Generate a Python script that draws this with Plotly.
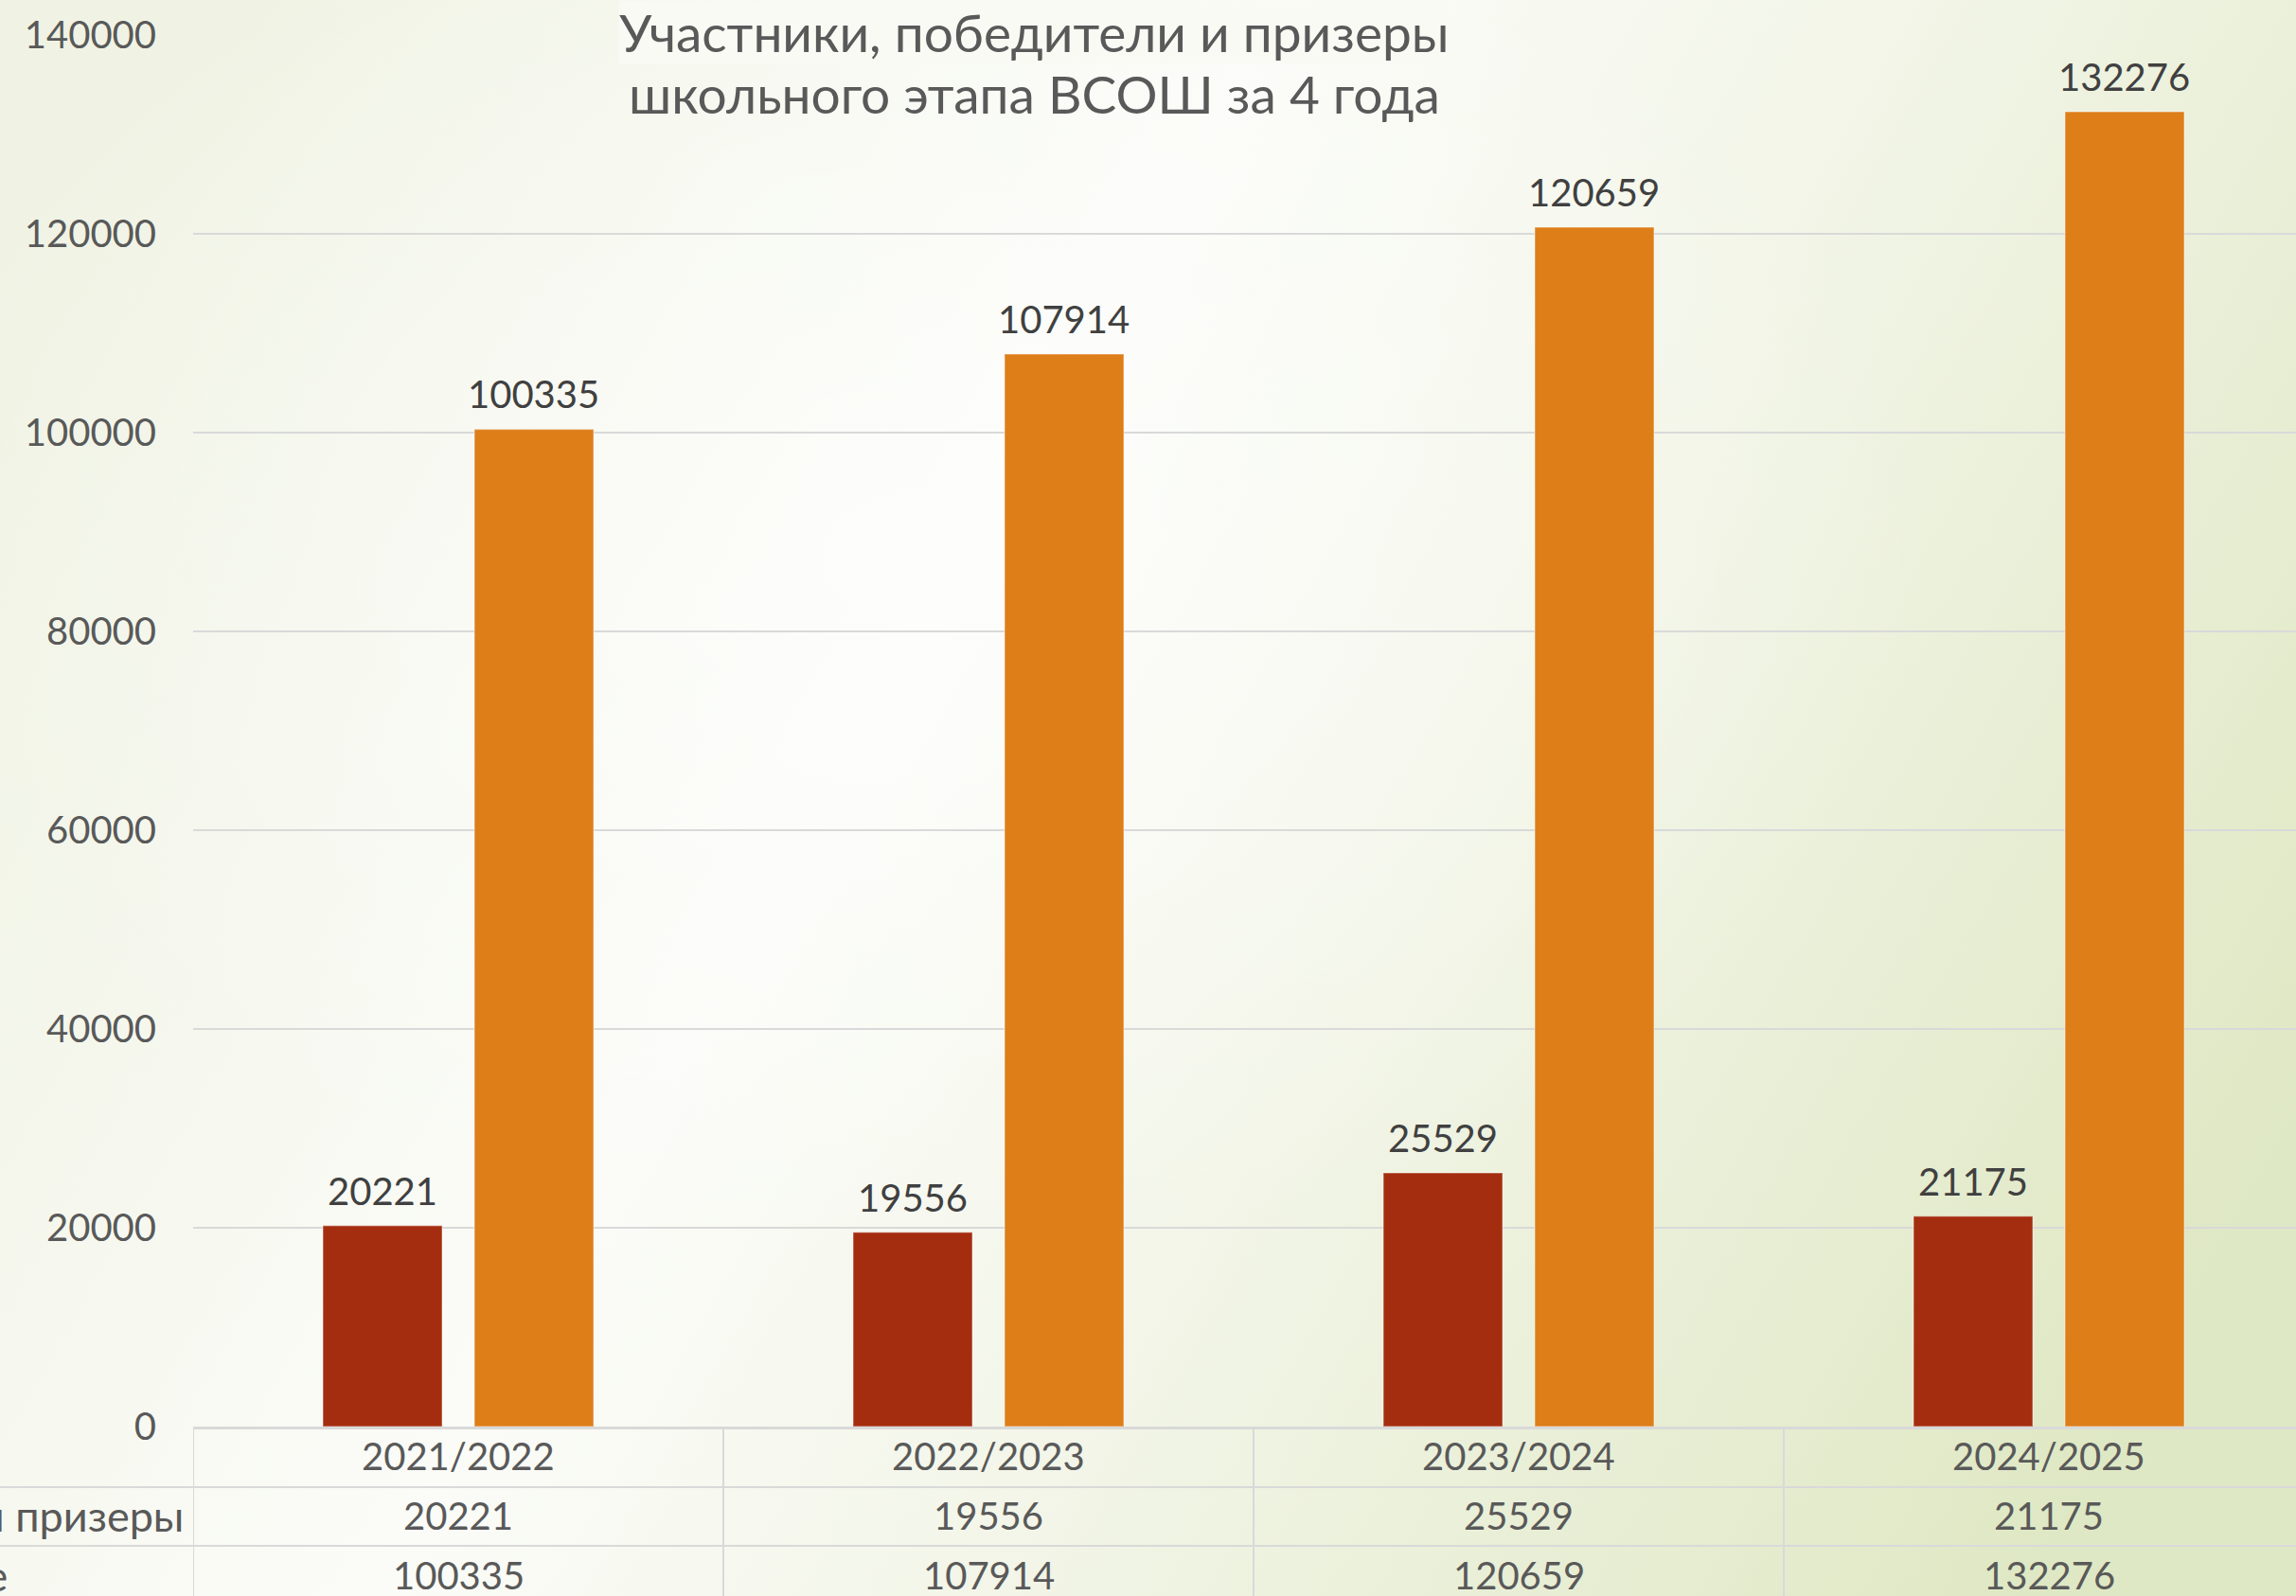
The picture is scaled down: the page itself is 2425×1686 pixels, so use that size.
import base64
import plotly.graph_objects as go

# ---------------- data ----------------
categories = ["2021/2022", "2022/2023", "2023/2024", "2024/2025"]
winners = [20221, 19556, 25529, 21175]
participants = [100335, 107914, 120659, 132276]
series_names = ["Победители и призеры", "Участие"]
y_ticks = [0, 20000, 40000, 60000, 80000, 100000, 120000, 140000]
title_lines = ["Участники, победители и призеры", "школьного этапа ВСОШ за 4 года"]

# ---------------- geometry ----------------
W, H = 2425, 1686
ML, MR, MT, MB = 204, 0, 37, 179
PW, PH = W - ML - MR, H - MT - MB
CAT_PX = 560.0
x_max = -0.5 + PW / CAT_PX
BARGAP, GROUPGAP = 0.4286, 0.2125
SLOT_PX = CAT_PX * (1 - BARGAP) / 2


def px_x(p):
    return (p - ML) / PW


def px_y(p):
    return (H - MB - p) / PH


FONT = "Lato"
TXT = "#595959"
GRID = "#D9D9D9"
RED = "#A52D0F"
ORANGE = "#DD7E19"
FS = 40

# background gradient (svg data uri)
svg = f'''<svg xmlns="http://www.w3.org/2000/svg" width="{W}" height="{H}">
<defs>
<linearGradient id="g" x1="0" y1="0.3" x2="1" y2="0.7">
<stop offset="0" stop-color="#F0F3E4"/>
<stop offset="0.38" stop-color="#FBFCF8"/>
<stop offset="0.62" stop-color="#F2F5E7"/>
<stop offset="1" stop-color="#DFE8C4"/>
</linearGradient>
<radialGradient id="r" cx="0.4" cy="0.35" r="0.45">
<stop offset="0" stop-color="#FFFFFF" stop-opacity="0.55"/>
<stop offset="1" stop-color="#FFFFFF" stop-opacity="0"/>
</radialGradient>
</defs>
<rect width="{W}" height="{H}" fill="url(#g)"/>
<rect width="{W}" height="{H}" fill="url(#r)"/>
</svg>'''
bg_uri = "data:image/svg+xml;base64," + base64.b64encode(svg.encode()).decode()

fig = go.Figure()
for vals, name, col in [(winners, series_names[0], RED), (participants, series_names[1], ORANGE)]:
    fig.add_trace(go.Bar(
        x=categories, y=vals, name=name,
        marker=dict(color=col, line=dict(color="rgba(255,255,255,0.35)", width=1.5)),
        hoverinfo="x+y+name",
    ))

shapes = []
# vertical table lines
for i in range(len(categories)):
    shapes.append(dict(type="line", xref="x", yref="paper", x0=i - 0.5, x1=i - 0.5,
                       y0=0, y1=px_y(H + 5), line=dict(color=GRID, width=2)))
# horizontal table lines
for p in [1571, 1633]:
    shapes.append(dict(type="line", xref="paper", yref="paper", x0=px_x(-5), x1=px_x(W + 5),
                       y0=px_y(p), y1=px_y(p), line=dict(color=GRID, width=2)))

annotations = []
# data labels above bars
for vals, sgn in [(winners, -1), (participants, 1)]:
    for c, v in zip(categories, vals):
        annotations.append(dict(x=c, xref="x", y=v, yref="y", text=str(v), showarrow=False,
                                xanchor="center", yanchor="bottom", xshift=sgn * SLOT_PX / 2, yshift=11,
                                font=dict(family=FONT, size=FS, color="#404040")))
# table rows
row_y = [1538, 1601, 1664]
rows = [categories, [str(v) for v in winners], [str(v) for v in participants]]
for r, ry in zip(rows, row_y):
    for c, t in zip(categories, r):
        annotations.append(dict(x=c, xref="x", y=px_y(ry), yref="paper", text=t, showarrow=False,
                                xanchor="center", yanchor="middle",
                                font=dict(family=FONT, size=FS, color=TXT)))
annotations.append(dict(x=px_x(196), xref="paper", y=px_y(row_y[1]), yref="paper", text=series_names[0],
                        showarrow=False, xanchor="right", yanchor="middle",
                        font=dict(family=FONT, size=45, color=TXT)))
annotations.append(dict(x=px_x(10), xref="paper", y=px_y(row_y[2]), yref="paper", text=series_names[1],
                        showarrow=False, xanchor="right", yanchor="middle",
                        font=dict(family=FONT, size=45, color=TXT)))
# title (two lines)
for line, ty, bg in [(title_lines[0], 34, "#F9FAF4"), (title_lines[1], 99, "rgba(0,0,0,0)")]:
    annotations.append(dict(x=px_x(1092), xref="paper", y=px_y(ty), yref="paper",
                            text=line, showarrow=False,
                            xanchor="center", yanchor="middle", align="center",
                            bgcolor=bg, borderpad=0,
                            font=dict(family=FONT, size=55, color=TXT)))

fig.update_layout(
    width=W, height=H, autosize=False,
    margin=dict(l=ML, r=MR, t=MT, b=MB, pad=0),
    paper_bgcolor="#F4F6EC", plot_bgcolor="rgba(0,0,0,0)",
    barmode="group", bargap=BARGAP, bargroupgap=GROUPGAP,
    showlegend=False,
    font=dict(family=FONT, color=TXT),
    xaxis=dict(type="category", range=[-0.5, x_max], showticklabels=False, showgrid=False,
               showline=True, linecolor=GRID, linewidth=3, zeroline=False, ticks=""),
    yaxis=dict(range=[0, 140000], tickvals=y_ticks, ticktext=[str(v) for v in y_ticks],
               showgrid=True, gridcolor=GRID, gridwidth=2, zeroline=False, showline=False,
               ticks="", ticklabelstandoff=38,
               tickfont=dict(family=FONT, size=FS, color=TXT)),
    shapes=shapes, annotations=annotations,
    images=[dict(source=bg_uri, xref="paper", yref="paper", x=px_x(0), y=px_y(0),
                 sizex=W / PW, sizey=H / PH, sizing="stretch", layer="below",
                 xanchor="left", yanchor="top")],
)

fig.write_html("out.html", config={"displayModeBar": False},
               post_script="document.body.style.margin='0';document.body.style.overflow='hidden';")
